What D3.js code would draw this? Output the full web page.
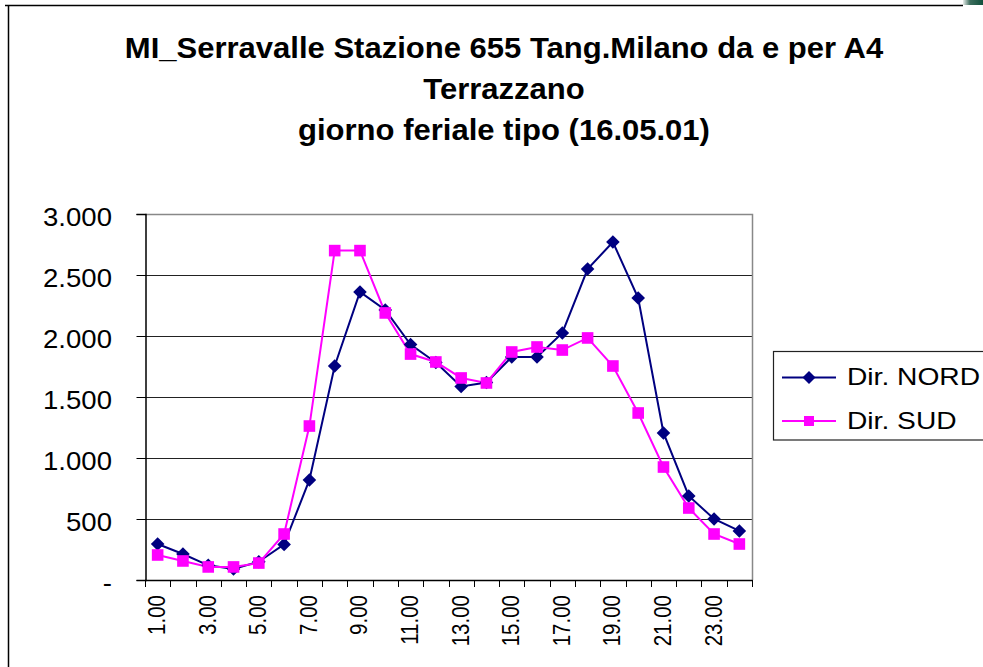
<!DOCTYPE html>
<html><head><meta charset="utf-8">
<script src="https://cdn.jsdelivr.net/npm/d3@7"></script>
<style>
body{margin:0;background:#fff}
svg{display:block}
text{font-family:Arial,"Liberation Sans",sans-serif;fill:#000}
</style>
</head><body>
<svg id="c" width="983" height="667"></svg>
<script>
const titleLines = ["MI_Serravalle Stazione 655 Tang.Milano da e per A4", "Terrazzano", "giorno feriale tipo (16.05.01)"];
const hours = ["1.00","2.00","3.00","4.00","5.00","6.00","7.00","8.00","9.00","10.00","11.00","12.00",
               "13.00","14.00","15.00","16.00","17.00","18.00","19.00","20.00","21.00","22.00","23.00","24.00"];
const shownHourLabels = ["1.00","3.00","5.00","7.00","9.00","11.00","13.00","15.00","17.00","19.00","21.00","23.00"];
const nord = [295,213,120,90,150,292,820,1754,2361,2213,1930,1783,1586,1619,1828,1828,2025,2549,2770,2311,1205,689,500,402];
const sud  = [205,156,107,107,139,377,1262,2700,2700,2189,1852,1787,1656,1615,1869,1910,1885,1984,1754,1369,926,590,377,295];
const yTicks = [0,500,1000,1500,2000,2500,3000];
const yTickLabels = ["-","500","1.000","1.500","2.000","2.500","3.000"];
const seriesNames = ["Dir. NORD","Dir. SUD"];
const seriesColors = ["#000080","#FF00FF"];

const svg = d3.select("#c");
const L = 145, R = 752, T = 214, B = 580;

// outer frame
svg.append("rect").attr("x",0).attr("y",0).attr("width",983).attr("height",667).attr("fill","#fff");
const grad = svg.append("defs").append("linearGradient").attr("id","g1").attr("x1","0").attr("x2","1");
grad.append("stop").attr("offset","0").attr("stop-color","#e8ecea");
grad.append("stop").attr("offset","0.35").attr("stop-color","#3d6e5e");
grad.append("stop").attr("offset","1").attr("stop-color","#10503c");
svg.append("rect").attr("x",963).attr("y",0).attr("width",20).attr("height",5).attr("fill","url(#g1)");
svg.append("line").attr("x1",5).attr("x2",963).attr("y1",5.5).attr("y2",5.5).attr("stroke","#000").attr("stroke-width",1.5);
svg.append("line").attr("x1",8.5).attr("x2",8.5).attr("y1",5).attr("y2",667).attr("stroke","#000").attr("stroke-width",1.5);

// title
const titleY = [58, 99, 140];
titleLines.forEach((t,i)=>{
  svg.append("g").attr("transform",`translate(504,${titleY[i]}) scale(1.07,1)`)
    .append("text").attr("text-anchor","middle").attr("font-weight","bold").attr("font-size",29).text(t);
});

const x = d3.scaleBand().domain(hours).range([L,R]).padding(0);
const y = d3.scaleLinear().domain([0,3000]).range([B,T]);

// gridlines
svg.append("g").selectAll("line").data(yTicks.filter(v=>v>0 && v<3000)).join("line")
  .attr("x1",L).attr("x2",R).attr("y1",d=>Math.round(y(d))+0.5).attr("y2",d=>Math.round(y(d))+0.5)
  .attr("stroke","#222").attr("stroke-width",1);

// plot border top/right (gray)
svg.append("path").attr("d",`M${L},${T+0.5}H${R+0.5}V${B}`).attr("fill","none").attr("stroke","#888").attr("stroke-width",1.5);

// y axis
const yAxis = d3.axisLeft(y).tickValues(yTicks).tickSize(9).tickFormat("");
const yg = svg.append("g").attr("transform",`translate(${L+0.5},0)`).call(yAxis);
yg.select(".domain").attr("stroke","#000").attr("stroke-width",1.5);
yg.selectAll(".tick line").attr("stroke","#000");
yTicks.forEach((v,i)=>{
  svg.append("g").attr("transform",`translate(112,${y(v)+11.5}) scale(1.06,1)`)
    .append("text").attr("text-anchor","end").attr("font-size",26).text(yTickLabels[i]);
});

// x axis
const boundaries = hours.map(h=>x(h)).concat([R]);
svg.append("line").attr("x1",L).attr("x2",R+0.5).attr("y1",B+0.5).attr("y2",B+0.5).attr("stroke","#000").attr("stroke-width",1.5);
svg.append("g").selectAll("line").data(boundaries).join("line")
  .attr("x1",d=>Math.round(d)+0.5).attr("x2",d=>Math.round(d)+0.5).attr("y1",B).attr("y2",B+7)
  .attr("stroke","#000").attr("stroke-width",1);
shownHourLabels.forEach(h=>{
  const cx = x(h) + x.bandwidth()/2 - 1;
  svg.append("g").attr("transform",`translate(${cx},595) scale(1.15,1) rotate(-90)`)
    .append("text").attr("text-anchor","end").attr("dy","0.36em").attr("font-size",20.5).text(h);
});

// series
const cxOf = i => x(hours[i]) + x.bandwidth()/2;
const line = d3.line().x((d,i)=>cxOf(i)).y(d=>y(d));
const diamond = (s)=>`M0,${-s}L${s},0L0,${s}L${-s},0Z`;
[nord, sud].forEach((data,si)=>{
  svg.append("path").datum(data).attr("d",line).attr("fill","none")
    .attr("stroke",seriesColors[si]).attr("stroke-width",2);
});
[nord, sud].forEach((data,si)=>{
  const g = svg.append("g");
  data.forEach((v,i)=>{
    if(si===0){
      g.append("path").attr("d",diamond(6.8)).attr("transform",`translate(${cxOf(i)},${y(v)})`).attr("fill",seriesColors[0]);
    } else {
      g.append("rect").attr("x",cxOf(i)-5.8).attr("y",y(v)-5.8).attr("width",11.6).attr("height",11.6).attr("fill",seriesColors[1]);
    }
  });
});

// legend
svg.append("rect").attr("x",773.5).attr("y",351.5).attr("width",230).attr("height",88.5).attr("fill","#fff").attr("stroke","#222").attr("stroke-width",1.2);
const legY = [377.5, 421];
seriesNames.forEach((n,i)=>{
  svg.append("line").attr("x1",782).attr("x2",836).attr("y1",legY[i]).attr("y2",legY[i]).attr("stroke",seriesColors[i]).attr("stroke-width",2);
  if(i===0) svg.append("path").attr("d",diamond(6.5)).attr("transform",`translate(809,${legY[i]})`).attr("fill",seriesColors[0]);
  else svg.append("rect").attr("x",804).attr("y",legY[i]-5).attr("width",10).attr("height",10).attr("fill",seriesColors[1]);
  svg.append("g").attr("transform",`translate(847,${legY[i]+7.5}) scale(1.2,1)`)
    .append("text").attr("font-size",23.5).text(n);
});
</script>
</body></html>
